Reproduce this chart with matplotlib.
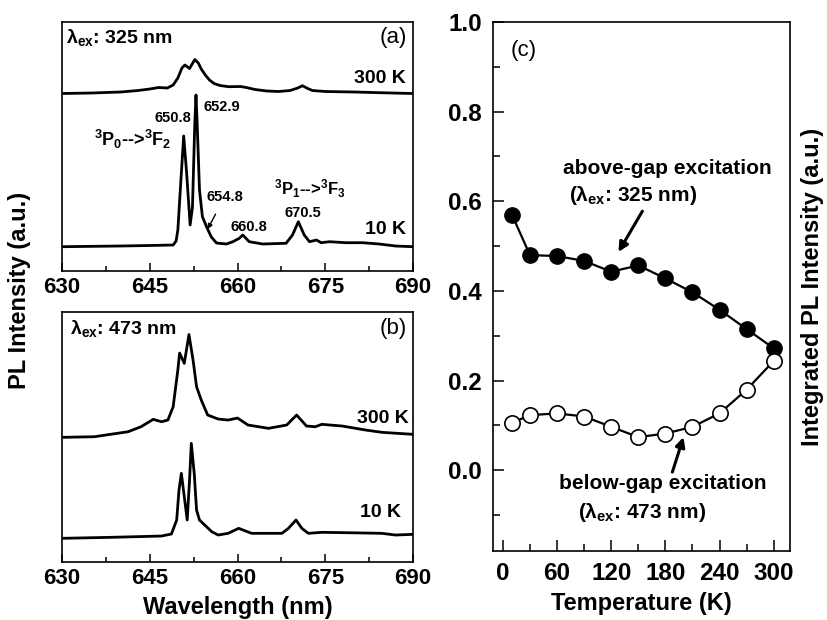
import matplotlib
matplotlib.use('Agg')
import matplotlib.pyplot as plt
from matplotlib.ticker import MultipleLocator

plt.rcParams['font.family'] = ['Liberation Sans', 'DejaVu Sans']
plt.rcParams['font.weight'] = 'bold'
plt.rcParams['axes.labelweight'] = 'bold'
plt.rcParams['mathtext.fontset'] = 'custom'
plt.rcParams['mathtext.rm'] = 'Liberation Sans:bold'
plt.rcParams['mathtext.it'] = 'Liberation Sans:bold'
plt.rcParams['mathtext.bf'] = 'Liberation Sans:bold'
plt.rcParams['mathtext.sf'] = 'Liberation Sans:bold'
plt.rcParams['mathtext.default'] = 'regular'
plt.rcParams['axes.linewidth'] = 1.2

# (a) excitation 325 nm, 300 K
wl_a300 = [630, 635, 640, 643, 645, 646.5, 648, 649, 649.8, 650.5, 651, 651.8, 652.7,
           653.3, 653.8, 654.5, 655.2, 656, 657, 658.5, 660.5, 661.5, 663, 665, 667,
           669, 670.3, 671.1, 672, 672.8, 675, 680, 685, 690]
pl_a300 = [177.5, 178, 179, 180.5, 182, 183.5, 183, 186, 193, 203, 206, 202.5, 211.5,
           208, 202, 196, 191, 187.5, 185.5, 184.3, 184.5, 183.5, 181.5, 180, 179.5,
           180.5, 183, 185.3, 182.5, 180.5, 179.5, 179, 178.2, 177.5]

# (a) excitation 325 nm, 10 K
wl_a10 = [630, 640, 645, 649, 649.5, 649.8, 650.4, 650.8, 651.3, 651.9, 652.3, 652.7,
          652.9, 653.1, 653.5, 654, 654.7, 655.5, 656.4, 658.1, 659.2, 660.3, 660.9,
          662, 664.3, 668.3, 669.4, 670.4, 671.4, 672.3, 673.5, 674.3, 675.7, 678.5,
          681.4, 684.2, 687, 690]
pl_a10 = [24.3, 25, 25.5, 26, 30, 41, 98, 135, 98, 46, 64, 148,
          176, 148, 81, 54.3, 44.3, 34.3, 28, 27, 29.3, 32.7, 36,
          29.3, 27, 27.7, 36, 49.3, 36, 29.3, 31, 28.3, 29.3, 28.3,
          28.3, 27, 25, 24.3]

# (b) excitation 473 nm, 300 K
wl_b300 = [630, 635.5, 641.3, 643.5, 645.6, 647, 648.1, 649, 649.8, 650.1, 650.9,
           651.7, 652.4, 653, 653.8, 654.9, 656.7, 658.4, 660, 661.8, 665.3, 668.4,
           670.1, 671.8, 673.3, 674.4, 677.9, 681.9, 684.7, 690]
pl_b300 = [124.7, 125.3, 130.3, 135.3, 142.7, 140.3, 142, 155.3, 192, 209, 198.7,
           227.5, 202, 175.3, 162, 147, 143, 142, 144, 137, 133.7, 137,
           147, 136, 135.3, 137.7, 136, 132, 129.7, 127.7]

# (b) excitation 473 nm, 10 K
wl_b10 = [630, 638.4, 647, 648.7, 649.6, 650, 650.4, 650.9, 651.4, 651.8, 652.1,
          652.6, 653, 653.5, 654.4, 655.6, 656.7, 658.4, 660.2, 662.4, 667.6, 668.7,
          670, 671, 672.1, 674.4, 679, 684.7, 687, 690]
pl_b10 = [23.7, 24.7, 26, 28, 42, 72, 88.7, 65.3, 42, 82, 118.7,
          88.7, 52, 42, 37, 30.3, 27, 28.7, 33.7, 28.7, 28.7, 33.7,
          42, 33.7, 28.7, 29.7, 29.3, 28.7, 27, 27.7]

# (c) integrated intensity vs temperature
temp = [10, 30, 60, 90, 120, 150, 180, 210, 240, 270, 300]
int_above = [0.57, 0.48, 0.478, 0.467, 0.443, 0.457, 0.428, 0.397, 0.358, 0.315, 0.272]
int_below = [0.106, 0.123, 0.127, 0.12, 0.097, 0.074, 0.082, 0.097, 0.127, 0.18, 0.244]

fig = plt.figure(figsize=(8.28, 6.2), dpi=100)
ax_a = fig.add_axes([0.0749, 0.5629, 0.4239, 0.4016])
ax_b = fig.add_axes([0.0749, 0.0935, 0.4239, 0.4032])
ax_c = fig.add_axes([0.5954, 0.1113, 0.3587, 0.8532])

for ax in (ax_a, ax_b):
    ax.set_xlim(630, 690)
    ax.xaxis.set_major_locator(MultipleLocator(15))
    ax.xaxis.set_minor_locator(MultipleLocator(7.5))
    ax.tick_params(axis='x', which='both', direction='in', top=False, labelsize=16, pad=4)
    ax.tick_params(axis='x', which='major', length=6, width=1.1)
    ax.tick_params(axis='x', which='minor', length=3.5, width=1.1)
    ax.set_yticks([])

ax_a.set_ylim(0, 249)
ax_b.set_ylim(0, 250)

ax_a.plot(wl_a300, pl_a300, color='black', lw=2.0)
ax_a.plot(wl_a10, pl_a10, color='black', lw=2.0)
ax_b.plot(wl_b300, pl_b300, color='black', lw=2.0)
ax_b.plot(wl_b10, pl_b10, color='black', lw=2.0)

# labels inside panel (a)
ax_a.text(630.6, 234, r'λ$_{ex}$: 325 nm', fontsize=14, ha='left', va='center')
ax_a.text(689, 234, '(a)', fontsize=16, fontweight='normal', ha='right', va='center')
ax_a.text(688.8, 193, '300 K', fontsize=14, ha='right', va='center')
ax_a.text(688.8, 42, '10 K', fontsize=14, ha='right', va='center')
ax_a.text(648.9, 153, '650.8', fontsize=10.5, ha='center', va='center')
ax_a.text(657.3, 164, '652.9', fontsize=10.5, ha='center', va='center')
ax_a.text(661.9, 44, '660.8', fontsize=10.5, ha='center', va='center')
ax_a.text(671.25, 58, '670.5', fontsize=10.5, ha='center', va='center')
ax_a.annotate('654.8', xy=(654.9, 42), xytext=(657.8, 74), fontsize=10.5,
              ha='center', va='center',
              arrowprops=dict(arrowstyle='-|>', color='black', lw=1.0,
                              mutation_scale=7, shrinkA=6, shrinkB=0))
ax_a.text(642.0, 132, r'$^3$P$_0$-->$^3$F$_2$', fontsize=13, ha='center', va='center')
ax_a.text(672.4, 82, r'$^3$P$_1$-->$^3$F$_3$', fontsize=12, ha='center', va='center')

# labels inside panel (b)
ax_b.text(631.4, 234, r'λ$_{ex}$: 473 nm', fontsize=14, ha='left', va='center')
ax_b.text(689, 234, '(b)', fontsize=16, fontweight='normal', ha='right', va='center')
ax_b.text(689.2, 144, '300 K', fontsize=14, ha='right', va='center')
ax_b.text(688, 50, '10 K', fontsize=14, ha='right', va='center')

ax_b.set_xlabel('Wavelength (nm)', fontsize=17, labelpad=5)
fig.text(0.024, 0.532, 'PL Intensity (a.u.)', fontsize=17, rotation=90,
         ha='center', va='center')

# panel (c)
ax_c.plot(temp, int_above, color='black', lw=1.6, marker='o', ms=11,
          mfc='black', mec='black')
ax_c.plot(temp, int_below, color='black', lw=1.6, marker='o', ms=11,
          mfc='white', mec='black', mew=1.2)
ax_c.set_xlim(-11, 318)
ax_c.set_ylim(-0.18, 1.0)
ax_c.xaxis.set_major_locator(MultipleLocator(60))
ax_c.xaxis.set_minor_locator(MultipleLocator(30))
ax_c.yaxis.set_major_locator(MultipleLocator(0.2))
ax_c.yaxis.set_minor_locator(MultipleLocator(0.1))
ax_c.tick_params(which='both', direction='in', top=False, right=False, labelsize=17.5, width=1.1)
ax_c.tick_params(axis='x', which='major', length=8, pad=8)
ax_c.tick_params(axis='x', which='minor', length=5)
ax_c.tick_params(axis='y', which='major', length=8, pad=8)
ax_c.tick_params(axis='y', which='minor', length=5)
ax_c.set_xlabel('Temperature (K)', fontsize=17, labelpad=5)
ax_c.yaxis.set_label_position('right')
ax_c.set_ylabel('Integrated PL Intensity (a.u.)', fontsize=17, labelpad=8)

ax_c.text(8, 0.9375, '(c)', fontsize=16, fontweight='normal', ha='left', va='center')
ax_c.text(182, 0.674, 'above-gap excitation', fontsize=15, ha='center', va='center')
ax_c.text(144.5, 0.614, r'(λ$_{ex}$: 325 nm)', fontsize=15, ha='center', va='center')
ax_c.annotate('', xy=(128, 0.487), xytext=(154.5, 0.578),
              arrowprops=dict(arrowstyle='-|>', color='black', lw=2.2,
                              mutation_scale=14, shrinkA=0, shrinkB=0))
ax_c.text(176.6, -0.029, 'below-gap excitation', fontsize=15, ha='center', va='center')
ax_c.text(154.4, -0.094, r'(λ$_{ex}$: 473 nm)', fontsize=15, ha='center', va='center')
ax_c.annotate('', xy=(200, 0.074), xytext=(187.7, -0.004),
              arrowprops=dict(arrowstyle='-|>', color='black', lw=2.2,
                              mutation_scale=14, shrinkA=0, shrinkB=0))

fig.savefig('out.png', dpi=100)
